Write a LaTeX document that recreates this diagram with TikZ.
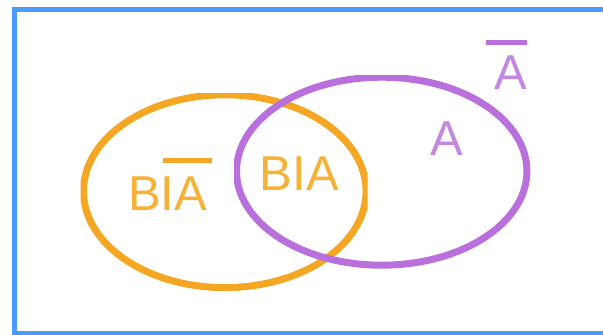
\documentclass[tikz,border=0pt]{standalone}
\usepackage{fontspec}
\setmainfont{Liberation Sans}
\definecolor{frameblue}{HTML}{4A9AFF}
\definecolor{setorange}{HTML}{F5A623}
\definecolor{textorange}{HTML}{F7B236}
\definecolor{setpurple}{HTML}{BA70DC}
\definecolor{textpurple}{HTML}{C488E0}
\tikzset{
  setlabel/.style={inner sep=0pt, anchor=base west, font=\fontsize{49}{50}\selectfont},
  overbar/.style={line width=5pt},
}
\begin{document}
\begin{tikzpicture}[x=1pt, y=-1pt]
  \useasboundingbox (0,0) rectangle (603,335);
  \begin{scope}
    \clip (0,0) rectangle (603,335);
    % universe frame, open to the right
    \draw[frameblue, line width=4.8pt] (14.2,9.3) rectangle (640,333.6);
  \end{scope}
  % set B
  \begin{scope}
    \clip (80.7,93.3) rectangle (367.7,290);
    \draw[setorange, line width=7pt] (224.8,191.2) ellipse [x radius=141.3, y radius=96.4];
  \end{scope}
  % set A
  \begin{scope}
    \clip (234,75) rectangle (531.7,268.3);
    \draw[setpurple, line width=7pt] (381.7,171.2) ellipse [x radius=145.2, y radius=94];
  \end{scope}
  % labels
  \node[setlabel, text=textorange] (bnota) at (128,210) {BIA};
  \draw[setorange, overbar] (163,160) -- (212,160);
  \node[setlabel, text=textorange] (bia) at (259.7,190) {BIA};
  \node[setlabel, text=textpurple] (a) at (429.8,155) {A};
  \node[setlabel, text=textpurple] (nota) at (494.3,89.3) {A};
  \draw[setpurple, overbar] (486,42.5) -- (527,42.5);
\end{tikzpicture}
\end{document}
